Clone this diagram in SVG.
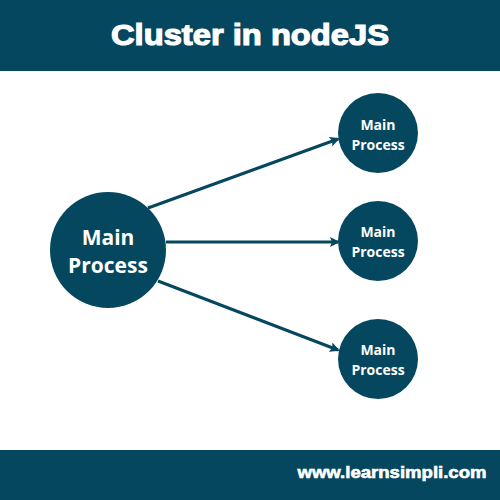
<svg xmlns="http://www.w3.org/2000/svg" width="500" height="500" viewBox="0 0 500 500">
<style>
.bar{fill:#05475e}
.node{fill:#05475e}
.t{fill:#ffffff;font-family:"Open Sans","Noto Sans",sans-serif;font-weight:bold;text-anchor:middle}
.big{font-size:21px}
.small{font-size:14px}
.conn{stroke:#05475e;stroke-width:3;fill:none;marker-end:url(#ah)}
.head{fill:#ffffff;stroke:#ffffff;font-family:"Liberation Sans",Arial,sans-serif;font-weight:bold;text-anchor:middle}
</style>
<defs>
<marker id="ah" markerWidth="10" markerHeight="10" refX="8" refY="5" orient="auto" markerUnits="userSpaceOnUse">
<path d="M0,0 L10,5 L0,10 L2,5 Z" fill="#05475e"/>
</marker>
</defs>
<rect width="500" height="500" fill="#ffffff"/>
<g id="header">
<rect class="bar" x="0" y="0" width="500" height="71"/>
<text class="head" x="250" y="45" font-size="30" stroke-width="1.2" textLength="278" lengthAdjust="spacingAndGlyphs">Cluster in nodeJS</text>
</g>
<g id="footer">
<rect class="bar" x="0" y="450" width="500" height="50"/>
<text class="head" x="392" y="478" font-size="16" stroke-width="0.6" textLength="189" lengthAdjust="spacingAndGlyphs">www.learnsimpli.com</text>
</g>
<g id="connectors">
<line class="conn" x1="148" y1="208" x2="338" y2="139"/>
<line class="conn" x1="166" y1="242" x2="338" y2="242"/>
<line class="conn" x1="158" y1="281" x2="338" y2="350"/>
</g>
<g id="main">
<circle class="node" cx="108" cy="250" r="58"/>
<text class="t big" x="108" y="245">Main</text>
<text class="t big" x="108" y="273">Process</text>
</g>
<g id="child1">
<circle class="node" cx="378" cy="133" r="40"/>
<text class="t small" x="378" y="130">Main</text>
<text class="t small" x="378" y="150">Process</text>
</g>
<g id="child2">
<circle class="node" cx="378" cy="241" r="40"/>
<text class="t small" x="378" y="237">Main</text>
<text class="t small" x="378" y="257">Process</text>
</g>
<g id="child3">
<circle class="node" cx="378" cy="359" r="40"/>
<text class="t small" x="378" y="355">Main</text>
<text class="t small" x="378" y="375">Process</text>
</g>
</svg>
